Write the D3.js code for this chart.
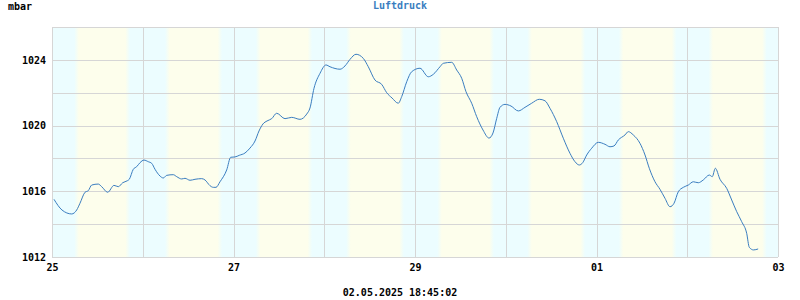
<!DOCTYPE html>
<html>
<head>
<meta charset="utf-8">
<script src="https://cdn.jsdelivr.net/npm/d3@7"></script>
<style>
  body { margin: 0; background: #fff; }
  text { font-family: "DejaVu Sans Mono", monospace; font-weight: bold; font-size: 10px; }
</style>
</head>
<body>
<div id="chart"></div>
<script>
// hours since 25.04.2025 00:00 and air pressure (mbar)
const hours = [0.53, 2.64, 5.21, 6.53, 7.40, 8.73, 9.60, 10.50, 12.24, 13.14, 14.73, 16.40, 17.53, 18.70, 19.91,
  20.44, 21.50, 22.40, 23.27, 24.33, 25.47, 26.37, 27.24, 28.56, 29.43, 30.33, 32.08, 32.98, 34.30, 35.17,
  36.50, 37.82, 39.59, 40.46, 41.79, 42.66, 43.37, 44.43, 46.20, 47.26, 48.40, 49.53, 51.04, 52.36, 53.69,
  54.74, 55.80, 56.86, 58.10, 59.42, 61.62, 63.39, 65.59, 67.36, 68.23, 69.29, 70.88, 72.46, 73.52, 76.17,
  77.49, 78.81, 80.40, 82.33, 83.65, 85.42, 87.19, 88.52, 89.92, 91.58, 92.48, 93.81, 95.13, 97.32, 99.52,
  100.84, 102.61, 103.48, 105.71, 107.03, 108.35, 109.49, 110.99, 112.32, 113.98, 115.57, 116.63, 117.61,
  118.48, 119.80, 121.39, 123.32, 125.09, 126.86, 128.87, 130.38, 131.70, 133.47, 135.22, 136.99, 138.31,
  139.45, 140.35, 141.41, 142.73, 144.48, 146.25, 147.57, 148.63, 149.76, 151.54, 152.41, 153.73, 155.50,
  156.83, 157.96, 159.47, 160.79, 162.12, 163.44, 164.50, 165.63, 166.96, 168.28, 169.60, 170.92, 172.24,
  173.83, 174.62, 175.42, 176.66, 178.43, 179.76, 181.08, 182.40, 183.72, 184.41, 185.53, 186.75];
const pressure = [1015.51, 1014.86, 1014.62, 1014.86, 1015.27, 1015.94, 1016.04, 1016.38, 1016.44, 1016.28,
  1015.94, 1016.36, 1016.28, 1016.52, 1016.64, 1016.73, 1017.34, 1017.50, 1017.74, 1017.90, 1017.80, 1017.70,
  1017.34, 1016.93, 1016.81, 1016.97, 1017.01, 1016.89, 1016.75, 1016.79, 1016.67, 1016.73, 1016.77, 1016.69,
  1016.34, 1016.24, 1016.24, 1016.58, 1017.30, 1018.07, 1018.09, 1018.19, 1018.33, 1018.63, 1019.06, 1019.67,
  1020.10, 1020.28, 1020.42, 1020.75, 1020.42, 1020.50, 1020.38, 1020.70, 1021.07, 1022.27, 1023.18, 1023.69,
  1023.58, 1023.43, 1023.63, 1024.03, 1024.34, 1024.09, 1023.58, 1022.77, 1022.51, 1022.00, 1021.68, 1021.36,
  1021.76, 1022.67, 1023.28, 1023.49, 1022.97, 1023.12, 1023.58, 1023.79, 1023.85, 1023.38, 1022.88, 1022.06,
  1021.36, 1020.54, 1019.73, 1019.24, 1019.55, 1020.44, 1021.11, 1021.29, 1021.19, 1020.89, 1021.11, 1021.36,
  1021.60, 1021.51, 1021.05, 1020.24, 1019.23, 1018.31, 1017.80, 1017.60, 1017.74, 1018.21, 1018.62, 1018.98,
  1018.86, 1018.71, 1018.76, 1019.12, 1019.43, 1019.63, 1019.43, 1018.92, 1018.21, 1017.40, 1016.58, 1016.12,
  1015.57, 1015.06, 1015.27, 1015.97, 1016.24, 1016.38, 1016.58, 1016.52, 1016.69, 1016.99, 1016.89, 1017.40,
  1016.73, 1016.18, 1015.47, 1014.76, 1014.15, 1013.44, 1012.59, 1012.43, 1012.49];

// sunrise / sunset per day (hour of day), 25.04. .. 02.05.
const sunrise = [6.5, 6.5, 6.5, 6.4, 6.5, 6.3, 6.5, 6.2];
const sunset = [20.0, 20.4, 20.2, 20.5, 20.3, 20.4, 20.5, 20.4];

const yLabels = [1012, 1016, 1020, 1024];
const yGrid = [1012, 1014, 1016, 1018, 1020, 1022, 1024, 1026];
const title = 'Luftdruck';
const unit = 'mbar';
const stamp = '02.05.2025 18:45:02';

const start = new Date(2025, 3, 25);
const end = new Date(2025, 4, 3);
const hr = 3600 * 1000;
const data = hours.map((h, i) => ({t: new Date(+start + h * hr), v: pressure[i]}));

let plotLeft = 52, plotRight = 778, plotTop = 27, plotBottom = 257;

let svg = d3.select('#chart').append('svg')
    .attr('width', 800)
    .attr('height', 300);

let x = d3.scaleTime().domain([start, end]).range([plotLeft, plotRight]);
let y = d3.scaleLinear().domain([1012, 1026]).range([plotBottom, plotTop]);

// day / night background
let days = d3.timeDay.range(start, end);
let grad = svg.append('defs').append('linearGradient')
    .attr('id', 'sky')
    .attr('gradientUnits', 'userSpaceOnUse')
    .attr('x1', plotLeft).attr('x2', plotRight)
    .attr('y1', 0).attr('y2', 0);
let night = '#ecfdff', day = '#fdfeec';
let stops = [[start, night]];
days.forEach(function(d, i) {
    let r = +d + sunrise[i] * hr, s = +d + sunset[i] * hr;
    stops.push([r - 0.6 * hr, night], [r + 0.6 * hr, day], [s - 0.6 * hr, day], [s + 0.6 * hr, night]);
});
stops.push([end, night]);
grad.selectAll('stop')
    .data(stops)
    .enter()
    .append('stop')
        .attr('offset', d => (x(d[0]) - plotLeft) / (plotRight - plotLeft))
        .attr('stop-color', d => d[1]);

svg.append('rect')
    .attr('x', plotLeft).attr('y', plotTop)
    .attr('width', plotRight - plotLeft).attr('height', plotBottom - plotTop)
    .attr('fill', 'url(#sky)');

// grid
let grid = svg.append('g').attr('stroke', '#d6d6d6').attr('shape-rendering', 'crispEdges');
grid.selectAll('.vg')
    .data(d3.timeDay.range(start, d3.timeDay.offset(end, 1)))
    .enter()
    .append('line')
        .attr('x1', d => Math.round(x(d)) + 0.5).attr('x2', d => Math.round(x(d)) + 0.5)
        .attr('y1', plotTop).attr('y2', plotBottom);
grid.selectAll('.hg')
    .data(yGrid)
    .enter()
    .append('line')
        .attr('y1', d => Math.round(y(d)) + 0.5).attr('y2', d => Math.round(y(d)) + 0.5)
        .attr('x1', plotLeft).attr('x2', plotRight);

// pressure line
svg.append('path')
    .datum(data)
    .attr('fill', 'none')
    .attr('stroke', '#3a7dc0')
    .attr('stroke-width', 1)
    .attr('d', d3.line()
        .x(d => x(d.t))
        .y(d => y(d.v))
        .curve(d3.curveMonotoneX));

// axes (labels only)
let yAxis = svg.append('g')
    .attr('transform', 'translate(' + (plotLeft - 6) + ',0)')
    .call(d3.axisLeft(y).tickValues(yLabels).tickSize(0).tickPadding(0).tickFormat(d3.format('d')));
yAxis.select('.domain').remove();

let xAxis = svg.append('g')
    .attr('transform', 'translate(0,' + (plotBottom + 7) + ')')
    .call(d3.axisBottom(x)
        .tickValues([0, 2, 4, 6, 8].map(i => d3.timeDay.offset(start, i)))
        .tickSize(0).tickPadding(0).tickFormat(d3.timeFormat('%d')));
xAxis.select('.domain').remove();

svg.selectAll('.tick text')
    .attr('fill', '#000')
    .style('font-family', '"DejaVu Sans Mono", monospace')
    .style('font-weight', 'bold')
    .style('font-size', '10px');

svg.append('text')
    .attr('x', 8).attr('y', 10)
    .text(unit);

svg.append('text')
    .attr('x', 400).attr('y', 9)
    .attr('text-anchor', 'middle')
    .attr('fill', '#3a7dc0')
    .text(title);

svg.append('text')
    .attr('x', 400).attr('y', 296)
    .attr('text-anchor', 'middle')
    .text(stamp);
</script>
</body>
</html>
